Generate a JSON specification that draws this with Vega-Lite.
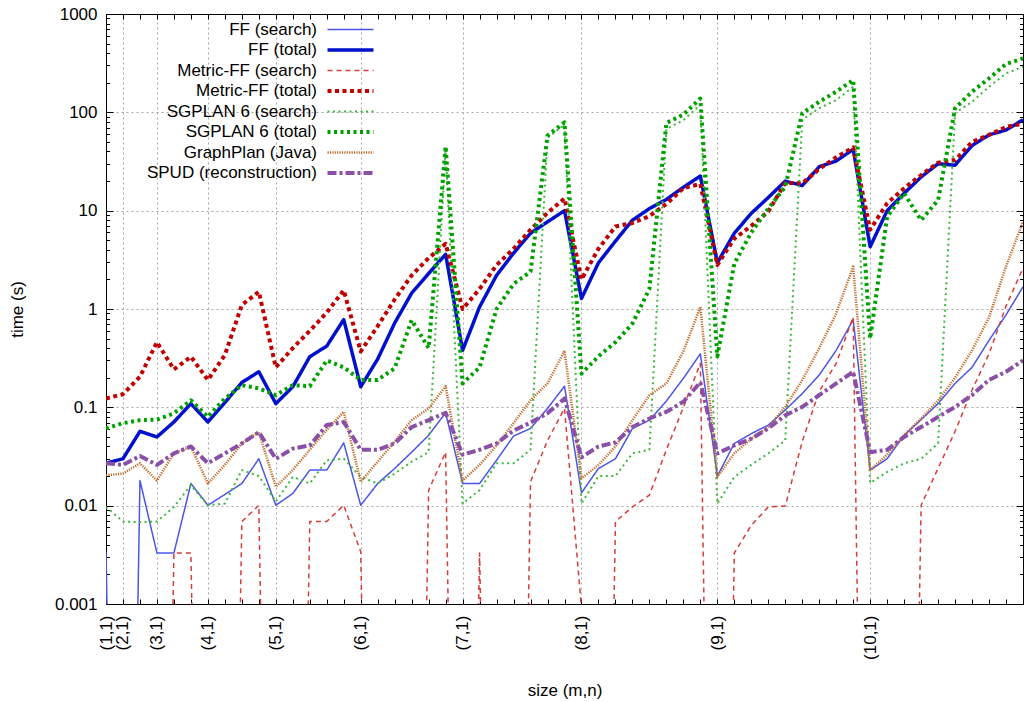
{
  "$schema": "https://vega.github.io/schema/vega-lite/v6.json",
  "width": 917,
  "height": 590,
  "autosize": {"type": "none"},
  "padding": {"left": 106, "top": 14, "right": 1, "bottom": 98},
  "background": "white",
  "config": {
    "view": {"stroke": "black", "strokeWidth": 1},
    "font": "Liberation Sans",
    "axis": {
      "labelFont": "Liberation Sans", "titleFont": "Liberation Sans",
      "labelFontSize": 17, "titleFontSize": 17, "titleFontWeight": "normal",
      "labelColor": "black", "titleColor": "black", "domain": false,
      "tickColor": "black", "tickWidth": 1, "gridColor": "#a8a8a8", "gridDash": [2, 3], "gridWidth": 1
    },
    "axisX": {"grid": false},
    "axisY": {"grid": false}
  },
  "data": {"values": [
    {"i":0,"FF (search)":0.0034,"FF (total)":0.027,"Metric-FF (search)":1e-12,"Metric-FF (total)":0.123,"SGPLAN 6 (search)":0.0097,"SGPLAN 6 (total)":0.061,"GraphPlan (Java)":0.0204,"SPUD (reconstruction)":0.027},
    {"i":1,"FF (search)":1e-12,"FF (total)":0.030,"Metric-FF (search)":1e-12,"Metric-FF (total)":0.136,"SGPLAN 6 (search)":0.0069,"SGPLAN 6 (total)":0.069,"GraphPlan (Java)":0.0212,"SPUD (reconstruction)":0.026},
    {"i":2,"FF (search)":0.018,"FF (total)":0.057,"Metric-FF (search)":1e-12,"Metric-FF (total)":0.205,"SGPLAN 6 (search)":0.0068,"SGPLAN 6 (total)":0.074,"GraphPlan (Java)":0.027,"SPUD (reconstruction)":0.032},
    {"i":3,"FF (search)":0.0033,"FF (total)":0.050,"Metric-FF (search)":1e-12,"Metric-FF (total)":0.46,"SGPLAN 6 (search)":0.0069,"SGPLAN 6 (total)":0.075,"GraphPlan (Java)":0.018,"SPUD (reconstruction)":0.026},
    {"i":4,"FF (search)":0.0033,"FF (total)":0.071,"Metric-FF (search)":0.0033,"Metric-FF (total)":0.243,"SGPLAN 6 (search)":0.0097,"SGPLAN 6 (total)":0.087,"GraphPlan (Java)":0.034,"SPUD (reconstruction)":0.034},
    {"i":5,"FF (search)":0.0168,"FF (total)":0.109,"Metric-FF (search)":0.0033,"Metric-FF (total)":0.327,"SGPLAN 6 (search)":0.0162,"SGPLAN 6 (total)":0.118,"GraphPlan (Java)":0.040,"SPUD (reconstruction)":0.040},
    {"i":6,"FF (search)":0.0101,"FF (total)":0.071,"Metric-FF (search)":1e-12,"Metric-FF (total)":0.19,"SGPLAN 6 (search)":0.0101,"SGPLAN 6 (total)":0.080,"GraphPlan (Java)":0.0168,"SPUD (reconstruction)":0.027},
    {"i":7,"FF (search)":0.013,"FF (total)":0.112,"Metric-FF (search)":1e-12,"Metric-FF (total)":0.34,"SGPLAN 6 (search)":0.0105,"SGPLAN 6 (total)":0.123,"GraphPlan (Java)":0.026,"SPUD (reconstruction)":0.034},
    {"i":8,"FF (search)":0.0168,"FF (total)":0.179,"Metric-FF (search)":0.0069,"Metric-FF (total)":1.1,"SGPLAN 6 (search)":0.023,"SGPLAN 6 (total)":0.168,"GraphPlan (Java)":0.043,"SPUD (reconstruction)":0.043},
    {"i":9,"FF (search)":0.030,"FF (total)":0.23,"Metric-FF (search)":0.0101,"Metric-FF (total)":1.5,"SGPLAN 6 (search)":0.020,"SGPLAN 6 (total)":0.156,"GraphPlan (Java)":0.056,"SPUD (reconstruction)":0.056},
    {"i":10,"FF (search)":0.0101,"FF (total)":0.109,"Metric-FF (search)":1e-12,"Metric-FF (total)":0.255,"SGPLAN 6 (search)":0.011,"SGPLAN 6 (total)":0.133,"GraphPlan (Java)":0.0156,"SPUD (reconstruction)":0.030},
    {"i":11,"FF (search)":0.0133,"FF (total)":0.162,"Metric-FF (search)":1e-12,"Metric-FF (total)":0.40,"SGPLAN 6 (search)":0.0196,"SGPLAN 6 (total)":0.168,"GraphPlan (Java)":0.023,"SPUD (reconstruction)":0.038},
    {"i":12,"FF (search)":0.023,"FF (total)":0.327,"Metric-FF (search)":0.0069,"Metric-FF (total)":0.60,"SGPLAN 6 (search)":0.0168,"SGPLAN 6 (total)":0.164,"GraphPlan (Java)":0.037,"SPUD (reconstruction)":0.041},
    {"i":13,"FF (search)":0.023,"FF (total)":0.42,"Metric-FF (search)":0.0069,"Metric-FF (total)":0.92,"SGPLAN 6 (search)":0.029,"SGPLAN 6 (total)":0.30,"GraphPlan (Java)":0.059,"SPUD (reconstruction)":0.066},
    {"i":14,"FF (search)":0.0435,"FF (total)":0.78,"Metric-FF (search)":0.0101,"Metric-FF (total)":1.55,"SGPLAN 6 (search)":0.030,"SGPLAN 6 (total)":0.255,"GraphPlan (Java)":0.090,"SPUD (reconstruction)":0.071},
    {"i":15,"FF (search)":0.0101,"FF (total)":0.162,"Metric-FF (search)":0.0034,"Metric-FF (total)":0.37,"SGPLAN 6 (search)":0.0196,"SGPLAN 6 (total)":0.19,"GraphPlan (Java)":0.0175,"SPUD (reconstruction)":0.037},
    {"i":16,"FF (search)":0.0168,"FF (total)":0.31,"Metric-FF (search)":1e-12,"Metric-FF (total)":0.67,"SGPLAN 6 (search)":0.0168,"SGPLAN 6 (total)":0.19,"GraphPlan (Java)":0.028,"SPUD (reconstruction)":0.037},
    {"i":17,"FF (search)":0.0239,"FF (total)":0.72,"Metric-FF (search)":1e-12,"Metric-FF (total)":1.25,"SGPLAN 6 (search)":0.0212,"SGPLAN 6 (total)":0.25,"GraphPlan (Java)":0.045,"SPUD (reconstruction)":0.043},
    {"i":18,"FF (search)":0.035,"FF (total)":1.45,"Metric-FF (search)":1e-12,"Metric-FF (total)":2.2,"SGPLAN 6 (search)":0.028,"SGPLAN 6 (total)":0.77,"GraphPlan (Java)":0.074,"SPUD (reconstruction)":0.063},
    {"i":19,"FF (search)":0.052,"FF (total)":2.3,"Metric-FF (search)":0.0144,"Metric-FF (total)":3.3,"SGPLAN 6 (search)":0.035,"SGPLAN 6 (total)":0.40,"GraphPlan (Java)":0.0975,"SPUD (reconstruction)":0.074},
    {"i":20,"FF (search)":0.088,"FF (total)":3.6,"Metric-FF (search)":0.035,"Metric-FF (total)":4.6,"SGPLAN 6 (search)":42,"SGPLAN 6 (total)":45,"GraphPlan (Java)":0.164,"SPUD (reconstruction)":0.088},
    {"i":21,"FF (search)":0.0168,"FF (total)":0.38,"Metric-FF (search)":1e-12,"Metric-FF (total)":1.0,"SGPLAN 6 (search)":0.0105,"SGPLAN 6 (total)":0.175,"GraphPlan (Java)":0.018,"SPUD (reconstruction)":0.033},
    {"i":22,"FF (search)":0.0168,"FF (total)":1.05,"Metric-FF (search)":0.0033,"Metric-FF (total)":1.6,"SGPLAN 6 (search)":0.0144,"SGPLAN 6 (total)":0.255,"GraphPlan (Java)":0.026,"SPUD (reconstruction)":0.037},
    {"i":23,"FF (search)":0.029,"FF (total)":2.2,"Metric-FF (search)":1e-12,"Metric-FF (total)":2.8,"SGPLAN 6 (search)":0.027,"SGPLAN 6 (total)":1.0,"GraphPlan (Java)":0.041,"SPUD (reconstruction)":0.043},
    {"i":24,"FF (search)":0.051,"FF (total)":3.7,"Metric-FF (search)":1e-12,"Metric-FF (total)":4.1,"SGPLAN 6 (search)":0.027,"SGPLAN 6 (total)":1.8,"GraphPlan (Java)":0.069,"SPUD (reconstruction)":0.058},
    {"i":25,"FF (search)":0.061,"FF (total)":5.9,"Metric-FF (search)":0.0175,"Metric-FF (total)":6.4,"SGPLAN 6 (search)":0.037,"SGPLAN 6 (total)":2.4,"GraphPlan (Java)":0.118,"SPUD (reconstruction)":0.070},
    {"i":26,"FF (search)":0.0975,"FF (total)":7.7,"Metric-FF (search)":0.046,"Metric-FF (total)":9.5,"SGPLAN 6 (search)":55,"SGPLAN 6 (total)":58,"GraphPlan (Java)":0.175,"SPUD (reconstruction)":0.087},
    {"i":27,"FF (search)":0.164,"FF (total)":10,"Metric-FF (search)":0.0975,"Metric-FF (total)":13.3,"SGPLAN 6 (search)":75,"SGPLAN 6 (total)":79,"GraphPlan (Java)":0.376,"SPUD (reconstruction)":0.123},
    {"i":28,"FF (search)":0.0135,"FF (total)":1.28,"Metric-FF (search)":0.0009,"Metric-FF (total)":2.0,"SGPLAN 6 (search)":0.0105,"SGPLAN 6 (total)":0.22,"GraphPlan (Java)":0.0189,"SPUD (reconstruction)":0.031},
    {"i":29,"FF (search)":0.0239,"FF (total)":2.95,"Metric-FF (search)":1e-12,"Metric-FF (total)":4.1,"SGPLAN 6 (search)":0.020,"SGPLAN 6 (total)":0.33,"GraphPlan (Java)":0.026,"SPUD (reconstruction)":0.040},
    {"i":30,"FF (search)":0.030,"FF (total)":4.9,"Metric-FF (search)":0.0069,"Metric-FF (total)":6.9,"SGPLAN 6 (search)":0.020,"SGPLAN 6 (total)":0.46,"GraphPlan (Java)":0.040,"SPUD (reconstruction)":0.044},
    {"i":31,"FF (search)":0.061,"FF (total)":8.0,"Metric-FF (search)":0.0097,"Metric-FF (total)":7.5,"SGPLAN 6 (search)":0.034,"SGPLAN 6 (total)":0.71,"GraphPlan (Java)":0.074,"SPUD (reconstruction)":0.063},
    {"i":32,"FF (search)":0.074,"FF (total)":10.5,"Metric-FF (search)":0.0128,"Metric-FF (total)":8.8,"SGPLAN 6 (search)":0.037,"SGPLAN 6 (total)":1.6,"GraphPlan (Java)":0.133,"SPUD (reconstruction)":0.077},
    {"i":33,"FF (search)":0.116,"FF (total)":13,"Metric-FF (search)":0.037,"Metric-FF (total)":11.7,"SGPLAN 6 (search)":68,"SGPLAN 6 (total)":78,"GraphPlan (Java)":0.175,"SPUD (reconstruction)":0.090},
    {"i":34,"FF (search)":0.197,"FF (total)":17.3,"Metric-FF (search)":0.10,"Metric-FF (total)":16.9,"SGPLAN 6 (search)":83,"SGPLAN 6 (total)":95,"GraphPlan (Java)":0.37,"SPUD (reconstruction)":0.114},
    {"i":35,"FF (search)":0.35,"FF (total)":22.5,"Metric-FF (search)":0.28,"Metric-FF (total)":18.7,"SGPLAN 6 (search)":120,"SGPLAN 6 (total)":138,"GraphPlan (Java)":1.05,"SPUD (reconstruction)":0.18},
    {"i":36,"FF (search)":0.020,"FF (total)":2.95,"Metric-FF (search)":1e-12,"Metric-FF (total)":2.8,"SGPLAN 6 (search)":0.0105,"SGPLAN 6 (total)":0.33,"GraphPlan (Java)":0.0196,"SPUD (reconstruction)":0.034},
    {"i":37,"FF (search)":0.043,"FF (total)":5.9,"Metric-FF (search)":0.0033,"Metric-FF (total)":5.2,"SGPLAN 6 (search)":0.0196,"SGPLAN 6 (total)":2.9,"GraphPlan (Java)":0.034,"SPUD (reconstruction)":0.041},
    {"i":38,"FF (search)":0.054,"FF (total)":9.4,"Metric-FF (search)":0.0063,"Metric-FF (total)":7.0,"SGPLAN 6 (search)":0.026,"SGPLAN 6 (total)":6.0,"GraphPlan (Java)":0.048,"SPUD (reconstruction)":0.048},
    {"i":39,"FF (search)":0.066,"FF (total)":13.6,"Metric-FF (search)":0.0097,"Metric-FF (total)":9.8,"SGPLAN 6 (search)":0.034,"SGPLAN 6 (total)":10.5,"GraphPlan (Java)":0.063,"SPUD (reconstruction)":0.061},
    {"i":40,"FF (search)":0.094,"FF (total)":20,"Metric-FF (search)":0.0099,"Metric-FF (total)":19.2,"SGPLAN 6 (search)":0.046,"SGPLAN 6 (total)":17.5,"GraphPlan (Java)":0.101,"SPUD (reconstruction)":0.083},
    {"i":41,"FF (search)":0.138,"FF (total)":18,"Metric-FF (search)":0.045,"Metric-FF (total)":19,"SGPLAN 6 (search)":84,"SGPLAN 6 (total)":98,"GraphPlan (Java)":0.189,"SPUD (reconstruction)":0.101},
    {"i":42,"FF (search)":0.213,"FF (total)":28,"Metric-FF (search)":0.145,"Metric-FF (total)":26.5,"SGPLAN 6 (search)":110,"SGPLAN 6 (total)":128,"GraphPlan (Java)":0.40,"SPUD (reconstruction)":0.133},
    {"i":43,"FF (search)":0.38,"FF (total)":32,"Metric-FF (search)":0.28,"Metric-FF (total)":35,"SGPLAN 6 (search)":133,"SGPLAN 6 (total)":162,"GraphPlan (Java)":0.9,"SPUD (reconstruction)":0.175},
    {"i":44,"FF (search)":0.78,"FF (total)":42,"Metric-FF (search)":0.83,"Metric-FF (total)":44,"SGPLAN 6 (search)":182,"SGPLAN 6 (total)":213,"GraphPlan (Java)":2.7,"SPUD (reconstruction)":0.23},
    {"i":45,"FF (search)":0.023,"FF (total)":4.3,"Metric-FF (search)":1e-12,"Metric-FF (total)":6.4,"SGPLAN 6 (search)":0.017,"SGPLAN 6 (total)":0.5,"GraphPlan (Java)":0.023,"SPUD (reconstruction)":0.035},
    {"i":46,"FF (search)":0.030,"FF (total)":10,"Metric-FF (search)":1e-12,"Metric-FF (total)":11.9,"SGPLAN 6 (search)":0.022,"SGPLAN 6 (total)":8.7,"GraphPlan (Java)":0.033,"SPUD (reconstruction)":0.037},
    {"i":47,"FF (search)":0.052,"FF (total)":15,"Metric-FF (search)":1e-12,"Metric-FF (total)":16.9,"SGPLAN 6 (search)":0.027,"SGPLAN 6 (total)":15,"GraphPlan (Java)":0.052,"SPUD (reconstruction)":0.050},
    {"i":48,"FF (search)":0.075,"FF (total)":22,"Metric-FF (search)":0.0101,"Metric-FF (total)":23,"SGPLAN 6 (search)":0.030,"SGPLAN 6 (total)":8.0,"GraphPlan (Java)":0.077,"SPUD (reconstruction)":0.063},
    {"i":49,"FF (search)":0.109,"FF (total)":30,"Metric-FF (search)":0.024,"Metric-FF (total)":30.8,"SGPLAN 6 (search)":0.043,"SGPLAN 6 (total)":12.8,"GraphPlan (Java)":0.117,"SPUD (reconstruction)":0.080},
    {"i":50,"FF (search)":0.175,"FF (total)":29,"Metric-FF (search)":0.057,"Metric-FF (total)":32.7,"SGPLAN 6 (search)":98,"SGPLAN 6 (total)":110,"GraphPlan (Java)":0.20,"SPUD (reconstruction)":0.101},
    {"i":51,"FF (search)":0.255,"FF (total)":46,"Metric-FF (search)":0.15,"Metric-FF (total)":50,"SGPLAN 6 (search)":128,"SGPLAN 6 (total)":162,"GraphPlan (Java)":0.38,"SPUD (reconstruction)":0.133},
    {"i":52,"FF (search)":0.48,"FF (total)":59,"Metric-FF (search)":0.35,"Metric-FF (total)":59,"SGPLAN 6 (search)":182,"SGPLAN 6 (total)":222,"GraphPlan (Java)":0.82,"SPUD (reconstruction)":0.19},
    {"i":53,"FF (search)":0.87,"FF (total)":66,"Metric-FF (search)":1.07,"Metric-FF (total)":71,"SGPLAN 6 (search)":249,"SGPLAN 6 (total)":310,"GraphPlan (Java)":2.7,"SPUD (reconstruction)":0.23},
    {"i":54,"FF (search)":1.68,"FF (total)":84,"Metric-FF (search)":2.6,"Metric-FF (total)":77,"SGPLAN 6 (search)":291,"SGPLAN 6 (total)":354,"GraphPlan (Java)":7.7,"SPUD (reconstruction)":0.30}
  ]},
  "transform": [
    {"fold": ["FF (search)", "FF (total)", "Metric-FF (search)", "Metric-FF (total)", "SGPLAN 6 (search)", "SGPLAN 6 (total)", "GraphPlan (Java)", "SPUD (reconstruction)"], "as": ["series", "time"]}
  ],
  "layer": [
    {
      "mark": {"type": "point", "opacity": 0, "clip": true},
      "encoding": {
        "x": {
          "field": "i", "type": "quantitative",
          "scale": {"domain": [0, 54], "nice": false, "zero": false},
          "axis": {
            "orient": "top",
            "values": [0,1,2,3,4,5,6,7,8,9,10,11,12,13,14,15,16,17,18,19,20,21,22,23,24,25,26,27,28,29,30,31,32,33,34,35,36,37,38,39,40,41,42,43,44,45,46,47,48,49,50,51,52,53,54],
            "labels": false, "domain": false, "title": null,
            "ticks": true, "tickSize": -5,
            "grid": true,
            "gridOpacity": {"condition": {"test": "indexof([1,3,6,10,15,21,28,36,45], datum.value) >= 0", "value": 1}, "value": 0}
          }
        },
        "y": {
          "field": "time", "type": "quantitative",
          "scale": {"type": "log", "domain": [0.001, 1000], "nice": false},
          "axis": {
            "orient": "right",
            "values": [0.001,0.002,0.003,0.004,0.005,0.006,0.007,0.008,0.009,0.01,0.02,0.03,0.04,0.05,0.06,0.07,0.08,0.09,0.1,0.2,0.3,0.4,0.5,0.6,0.7,0.8,0.9,1,2,3,4,5,6,7,8,9,10,20,30,40,50,60,70,80,90,100,200,300,400,500,600,700,800,900,1000],
            "labels": false, "domain": false, "title": null,
            "grid": true,
            "gridOpacity": {"condition": {"test": "indexof([0.01,0.1,1,10,100], datum.value) >= 0", "value": 1}, "value": 0},
            "tickSize": {"condition": {"test": "indexof([0.001,0.01,0.1,1,10,100,1000], datum.value) >= 0", "value": -7}, "value": -3.5}
          }
        }
      }
    },
    {
      "mark": {"type": "line", "clip": true, "strokeJoin": "round"},
      "encoding": {
        "x": {
          "field": "i", "type": "quantitative",
          "axis": {
            "orient": "bottom",
            "values": [0,1,2,3,4,5,6,7,8,9,10,11,12,13,14,15,16,17,18,19,20,21,22,23,24,25,26,27,28,29,30,31,32,33,34,35,36,37,38,39,40,41,42,43,44,45,46,47,48,49,50,51,52,53,54],
            "labelExpr": "indexof([0,1,3,6,10,15,21,28,36,45], datum.value) >= 0 ? '(' + (indexof([0,1,3,6,10,15,21,28,36,45], datum.value) + 1) + ',1)' : ''",
            "labelAngle": -90,
            "labelOverlap": false,
            "labelFlush": false,
            "labelPadding": 16,
            "tickSize": -5,
            "grid": false,
            "title": "size (m,n)",
            "titlePadding": 23
          }
        },
        "y": {
          "field": "time", "type": "quantitative",
          "axis": {
            "orient": "left",
            "values": [0.001,0.002,0.003,0.004,0.005,0.006,0.007,0.008,0.009,0.01,0.02,0.03,0.04,0.05,0.06,0.07,0.08,0.09,0.1,0.2,0.3,0.4,0.5,0.6,0.7,0.8,0.9,1,2,3,4,5,6,7,8,9,10,20,30,40,50,60,70,80,90,100,200,300,400,500,600,700,800,900,1000],
            "format": "~g",
            "labelExpr": "indexof([0.001,0.01,0.1,1,10,100,1000], datum.value) >= 0 ? datum.label : ''",
            "labelPadding": 16,
            "labelOverlap": false,
            "labelFlush": false,
            "tickSize": {"condition": {"test": "indexof([0.001,0.01,0.1,1,10,100,1000], datum.value) >= 0", "value": -7}, "value": -3.5},
            "grid": false,
            "title": "time (s)",
            "titlePadding": 28
          }
        },
        "color": {
          "field": "series", "type": "nominal",
          "scale": {
            "domain": ["FF (search)", "FF (total)", "Metric-FF (search)", "Metric-FF (total)", "SGPLAN 6 (search)", "SGPLAN 6 (total)", "GraphPlan (Java)", "SPUD (reconstruction)"],
            "range": ["#4b55e6", "#0010cc", "#d83c3c", "#c00000", "#3cb83c", "#00a000", "#c06a2a", "#8a50a8"]
          },
          "legend": {
            "title": null,
            "orient": "none",
            "legendX": 236,
            "legendY": 7,
            "padding": 0,
            "labelFont": "Liberation Sans",
            "labelFontSize": 17,
            "labelColor": "black",
            "labelAlign": "right",
            "labelOffset": -42,
            "labelLimit": 400,
            "symbolType": "stroke",
            "symbolSize": 2116,
            "rowPadding": 2.5,
            "encode": {
              "symbols": {"update": {"strokeWidth": {"signal": "datum.value === 'FF (total)' ? 3.5 : (datum.value === 'Metric-FF (total)' || datum.value === 'SGPLAN 6 (total)' || datum.value === 'SPUD (reconstruction)') ? 4 : datum.value === 'GraphPlan (Java)' ? 2.5 : datum.value === 'SGPLAN 6 (search)' ? 2 : 1.5"}}}
            }
          }
        },
        "strokeDash": {
          "field": "series", "type": "nominal",
          "scale": {
            "domain": ["FF (search)", "FF (total)", "Metric-FF (search)", "Metric-FF (total)", "SGPLAN 6 (search)", "SGPLAN 6 (total)", "GraphPlan (Java)", "SPUD (reconstruction)"],
            "range": [[1, 0], [1, 0], [5, 4], [4, 3.5], [2, 3.5], [3, 3.5], [1.2, 1.2], [9, 3, 3, 3]]
          }
        },
        "strokeWidth": {
          "condition": [
            {"test": "datum.series === 'FF (total)'", "value": 3.5},
            {"test": "datum.series === 'Metric-FF (total)' || datum.series === 'SGPLAN 6 (total)' || datum.series === 'SPUD (reconstruction)'", "value": 4},
            {"test": "datum.series === 'GraphPlan (Java)'", "value": 2.5},
            {"test": "datum.series === 'SGPLAN 6 (search)'", "value": 2}
          ],
          "value": 1.5
        }
      }
    }
  ],
  "resolve": {"axis": {"x": "independent", "y": "independent"}}
}
